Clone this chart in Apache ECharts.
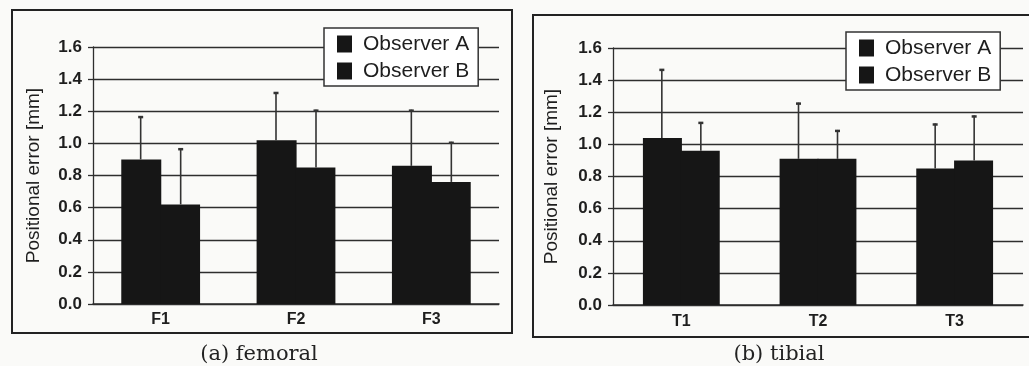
<!DOCTYPE html>
<html>
<head>
<meta charset="utf-8">
<script src="https://cdn.jsdelivr.net/npm/echarts@6/dist/echarts.min.js"></script>
<style>
html,body{margin:0;padding:0;background:#fafaf8;}
#c{width:1029px;height:366px;}
</style>
</head>
<body>
<div id="c"></div>
<script>
// ---- data ----
const seriesNames = ['Observer A', 'Observer B'];
const femoralCats = ['F1', 'F2', 'F3'];
const femoralA = [0.90, 1.02, 0.86];
const femoralA_sd = [0.27, 0.30, 0.35];
const femoralB = [0.62, 0.85, 0.76];
const femoralB_sd = [0.35, 0.36, 0.25];
const tibialCats = ['T1', 'T2', 'T3'];
const tibialA = [1.04, 0.91, 0.85];
const tibialA_sd = [0.43, 0.35, 0.28];
const tibialB = [0.96, 0.91, 0.90];
const tibialB_sd = [0.18, 0.18, 0.28];
const yTicks = [0, 0.2, 0.4, 0.6, 0.8, 1.0, 1.2, 1.4, 1.6];
const yName = 'Positional error [mm]';
const captions = ['(a) femoral', '(b) tibial'];

// ---- style ----
const BAR = '#161616';
const GRID_LINE = '#2e2e2e';
const TXT = '#1e1e1e';
const BAR_W = [40, 39];
const SANS = '"Liberation Sans", Arial, sans-serif';

function errData(means, sds) {
  return means.map((m, i) => [i, m, +(m + sds[i]).toFixed(3)]);
}
function errSeries(idx, means, sds, dir) {
  return {
    type: 'custom',
    xAxisIndex: idx, yAxisIndex: idx,
    z: 5,
    silent: true,
    data: errData(means, sds),
    encode: { x: 0, y: [1, 2] },
    renderItem: function (params, api) {
      const c = api.value(0);
      const b = api.coord([c, api.value(1)]);
      const t = api.coord([c, api.value(2)]);
      const x = b[0] + dir * BAR_W[idx] / 2;
      return {
        type: 'group',
        children: [
          { type: 'line', shape: { x1: x, y1: b[1], x2: x, y2: t[1] },
            style: { stroke: '#333', lineWidth: 1.6 } },
          { type: 'line', shape: { x1: x - 2.5, y1: t[1] + 1, x2: x + 2.5, y2: t[1] + 1 },
            style: { stroke: '#333', lineWidth: 2.5 } }
        ]
      };
    }
  };
}

function yAxisCfg(idx, gap) {
  return {
    gridIndex: idx, type: 'value', min: 0, max: 1.6, interval: 0.2,
    name: yName, nameLocation: 'middle', nameGap: gap, nameRotate: 90,
    nameTextStyle: { fontFamily: SANS, fontSize: 19, color: TXT },
    axisLine: { show: true, lineStyle: { color: GRID_LINE, width: 1.3 } },
    axisTick: { show: true, length: 5, lineStyle: { color: GRID_LINE, width: 1.3 } },
    axisLabel: { margin: 11, fontFamily: SANS, fontWeight: 'bold', fontSize: 17, color: TXT,
      formatter: v => (yTicks.indexOf(+v.toFixed(1)) >= 0 ? v.toFixed(1) : '') },
    splitLine: { show: true, lineStyle: { color: GRID_LINE, width: 1.3 } }
  };
}
function xAxisCfg(idx, cats, margin) {
  return {
    gridIndex: idx, type: 'category', data: cats,
    axisLine: { show: true, lineStyle: { color: GRID_LINE, width: 1.5 } },
    axisTick: { show: false },
    axisLabel: { margin: margin, fontFamily: SANS, fontWeight: 'bold', fontSize: 16, color: TXT }
  };
}
function legendCfg(idx, left, top) {
  return {
    data: seriesNames.map(n => ({ name: n })),
    orient: 'vertical', left: left, top: top,
    icon: 'rect', itemWidth: 15, itemHeight: 17, itemGap: 5,
    backgroundColor: '#ffffff', borderColor: '#333', borderWidth: 1.5, borderRadius: 0,
    padding: [5, 9, 4, 13],
    selectedMode: false,
    textStyle: { fontFamily: SANS, fontSize: 21, color: '#1e1e1e', lineHeight: 22, padding: [0, 0, 0, 6] },
    itemStyle: { color: BAR }
  };
}
function barSeries(name, idx, vals) {
  return {
    type: 'bar', name: name, xAxisIndex: idx, yAxisIndex: idx,
    data: vals, barWidth: BAR_W[idx], barGap: '-3%',
    itemStyle: { color: BAR }, z: 3
  };
}

const chart = echarts.init(document.getElementById('c'), null, { renderer: 'canvas' });
chart.setOption({
  backgroundColor: '#fafaf8',
  animation: false,
  grid: [
    { left: 93, top: 47, width: 406, height: 257 },
    { left: 613, top: 48, width: 410, height: 257 }
  ],
  xAxis: [xAxisCfg(0, femoralCats, 8), xAxisCfg(1, tibialCats, 9)],
  yAxis: [yAxisCfg(0, 50), yAxisCfg(1, 52)],
  legend: [legendCfg(0, 324, 28), legendCfg(1, 846, 32)],
  series: [
    barSeries(seriesNames[0], 0, femoralA),
    barSeries(seriesNames[1], 0, femoralB),
    barSeries(seriesNames[0], 1, tibialA),
    barSeries(seriesNames[1], 1, tibialB),
    errSeries(0, femoralA, femoralA_sd, -1),
    errSeries(0, femoralB, femoralB_sd, 1),
    errSeries(1, tibialA, tibialA_sd, -1),
    errSeries(1, tibialB, tibialB_sd, 1)
  ],
  graphic: [
    { type: 'rect', shape: { x: 12, y: 10, width: 500, height: 323 },
      style: { fill: 'none', stroke: '#222', lineWidth: 2 }, silent: true },
    { type: 'rect', shape: { x: 533, y: 15, width: 520, height: 322 },
      style: { fill: 'none', stroke: '#222', lineWidth: 2 }, silent: true },
    { type: 'text', x: 259, y: 355, silent: true,
      style: { text: captions[0], fill: '#222', font: '21px "DejaVu Serif", serif', textAlign: 'center', textVerticalAlign: 'middle' } },
    { type: 'text', x: 779, y: 355, silent: true,
      style: { text: captions[1], fill: '#222', font: '21px "DejaVu Serif", serif', textAlign: 'center', textVerticalAlign: 'middle' } }
  ]
});
</script>
</body>
</html>
